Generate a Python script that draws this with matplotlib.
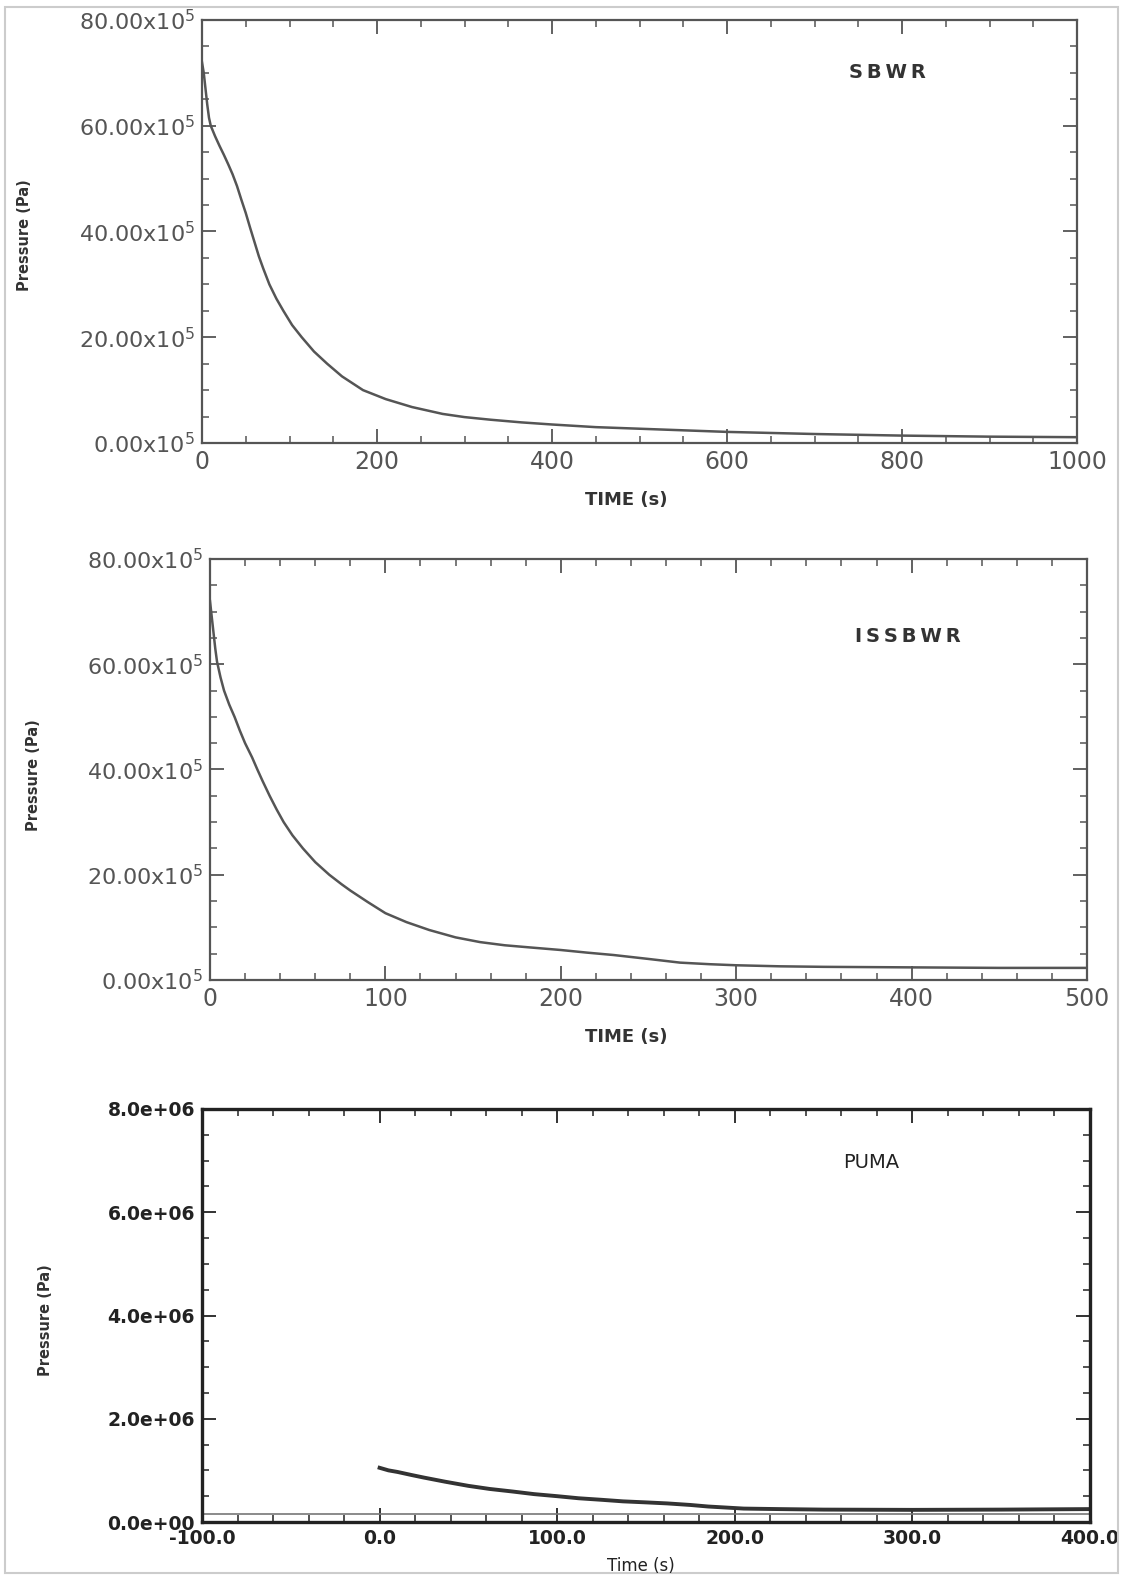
import numpy as np
import matplotlib
matplotlib.use("Agg")
import matplotlib.pyplot as plt
from matplotlib.ticker import MultipleLocator, FuncFormatter
from matplotlib.patches import Rectangle

plt.rcParams['font.family'] = ['DejaVu Sans']
plt.rcParams['mathtext.fontset'] = 'dejavusans'

# SBWR: Zeit (s) und Druck (10^5 Pa)
sbwr_t = [0, 2, 4, 6, 8, 10, 15, 20, 25, 30, 35, 40, 45, 50, 55, 60, 65, 70, 77, 85,
          93, 103, 114, 128, 143, 160, 184, 210, 240, 275, 300, 330, 365, 400, 450,
          500, 550, 600, 650, 700, 800, 900, 1000]
sbwr_p = [72, 70, 67, 64, 61.5, 60, 58, 56.2, 54.5, 52.7, 50.8, 48.6, 46, 43.5, 40.7,
          38, 35.3, 33, 30, 27.3, 25, 22.3, 20, 17.3, 15, 12.6, 10, 8.3, 6.8, 5.5, 4.9,
          4.4, 3.9, 3.5, 3.0, 2.7, 2.4, 2.1, 1.9, 1.7, 1.4, 1.2, 1.1]

# ISSBWR: Zeit (s) und Druck (10^5 Pa)
issbwr_t = [0, 1, 2, 3, 4, 6, 8, 11, 14, 17, 20, 24, 27, 30, 34, 38, 42, 47, 53, 60,
            68, 75, 80, 90, 100, 112, 125, 140, 154, 168, 182, 200, 215, 230, 250,
            268, 285, 300, 325, 350, 400, 450, 500]
issbwr_p = [72, 69, 66, 63, 60.5, 57.5, 55, 52.3, 50, 47.4, 45, 42.3, 40, 37.8, 35,
            32.4, 30, 27.5, 25, 22.4, 20, 18.2, 17.0, 14.8, 12.7, 11, 9.5, 8.1, 7.2,
            6.6, 6.2, 5.7, 5.2, 4.75, 4.0, 3.3, 3.0, 2.8, 2.6, 2.5, 2.4, 2.3, 2.3]

# PUMA: Zeit (s) und Druck (10^6 Pa)
puma_t = [0, 5, 10, 18, 25, 37, 50, 62, 75, 87, 100, 112, 125, 137, 150, 162, 175,
          185, 195, 205, 225, 250, 300, 350, 400]
puma_p = [1.05, 1.0, 0.97, 0.91, 0.86, 0.78, 0.70, 0.64, 0.59, 0.54, 0.50, 0.46, 0.43,
          0.40, 0.38, 0.36, 0.33, 0.30, 0.28, 0.26, 0.25, 0.24, 0.235, 0.24, 0.25]

W, H = 1123, 1575
fig = plt.figure(figsize=(W / 100, H / 100), dpi=100)


def box(x0, y0, x1, y1):
    # Pixelkoordinaten -> Figurkoordinaten
    return [x0 / W, 1 - y1 / H, (x1 - x0) / W, (y1 - y0) / H]


def style(ax, col, lw):
    for s in ax.spines.values():
        s.set_color(col)
        s.set_linewidth(lw)
    ax.tick_params(which='both', direction='in', top=True, right=True, color=col)
    ax.tick_params(which='major', length=10, width=1.3)
    ax.tick_params(which='minor', length=5, width=1.1)


gray = '#555555'

# --- SBWR ---
ax1 = fig.add_axes(box(202, 20, 1077, 443))
ax1.plot(sbwr_t, sbwr_p, color=gray, lw=1.8)
ax1.set_xlim(0, 1000)
ax1.set_ylim(0, 80)
ax1.xaxis.set_major_locator(MultipleLocator(200))
ax1.xaxis.set_minor_locator(MultipleLocator(50))
ax1.yaxis.set_major_locator(MultipleLocator(20))
ax1.yaxis.set_minor_locator(MultipleLocator(5))
ax1.yaxis.set_major_formatter(FuncFormatter(lambda v, p: f"{v:.2f}x10$^5$"))
ax1.xaxis.set_major_formatter(FuncFormatter(lambda v, p: f"{v:.0f}"))
style(ax1, gray, 1.6)
ax1.tick_params(which='major', labelcolor=gray, pad=5)
ax1.tick_params(axis='y', labelsize=16)
ax1.tick_params(axis='x', labelsize=17)
fig.text(887 / W, 1 - 72 / H, "S\u2009B\u2009W\u2009R",
         ha='center', va='center', fontsize=14, fontweight='bold', color='#333333')

# --- ISSBWR ---
ax2 = fig.add_axes(box(210, 559, 1087, 980))
ax2.plot(issbwr_t, issbwr_p, color=gray, lw=1.8)
ax2.set_xlim(0, 500)
ax2.set_ylim(0, 80)
ax2.xaxis.set_major_locator(MultipleLocator(100))
ax2.xaxis.set_minor_locator(MultipleLocator(20))
ax2.yaxis.set_major_locator(MultipleLocator(20))
ax2.yaxis.set_minor_locator(MultipleLocator(5))
ax2.yaxis.set_major_formatter(FuncFormatter(lambda v, p: f"{v:.2f}x10$^5$"))
ax2.xaxis.set_major_formatter(FuncFormatter(lambda v, p: f"{v:.0f}"))
style(ax2, gray, 1.6)
ax2.tick_params(which='major', labelcolor=gray, pad=5)
ax2.tick_params(axis='y', labelsize=16)
ax2.tick_params(axis='x', labelsize=17)
fig.text(908 / W, 1 - 637 / H, "I\u2009S\u2009S\u2009B\u2009W\u2009R",
         ha='center', va='center', fontsize=14, fontweight='bold', color='#333333')

# --- PUMA ---
ax3 = fig.add_axes(box(202, 1109, 1090, 1522))
ax3.plot(puma_t, np.array(puma_p) * 1e6, color='#333333', lw=2.8)
ax3.set_xlim(-100, 400)
ax3.set_ylim(0, 8e6)
ax3.xaxis.set_major_locator(MultipleLocator(100))
ax3.xaxis.set_minor_locator(MultipleLocator(20))
ax3.yaxis.set_major_locator(MultipleLocator(2e6))
ax3.yaxis.set_minor_locator(MultipleLocator(0.5e6))
ax3.yaxis.set_major_formatter(FuncFormatter(lambda v, p: f"{v:.1e}"))
ax3.xaxis.set_major_formatter(FuncFormatter(lambda v, p: f"{v:.1f}"))
style(ax3, '#222222', 2.4)
ax3.tick_params(which='major', labelsize=13.5, labelcolor='#222222', pad=5)
for lab in ax3.get_xticklabels() + ax3.get_yticklabels():
    lab.set_fontweight('bold')
ax3.plot([0, 1], [0.02, 0.02], transform=ax3.transAxes, color='#777777', lw=1.2)
fig.text(871 / W, 1 - 1162 / H, "PUMA", ha='center', va='center',
         fontsize=14, color='#222222')

# Achsenbeschriftungen
fig.text(626 / W, 1 - 500 / H, "TIME (s)", ha='center', va='center',
         fontsize=13, fontweight='bold', color='#333333')
fig.text(626 / W, 1 - 1037 / H, "TIME (s)", ha='center', va='center',
         fontsize=13, fontweight='bold', color='#333333')
fig.text(641 / W, 1 - 1566 / H, "Time (s)", ha='center', va='center',
         fontsize=12, color='#222222')
for x, y in [(25, 235), (33, 775), (46, 1320)]:
    fig.text(x / W, 1 - y / H, "Pressure (Pa)", rotation=90, ha='center',
             va='center', fontsize=10.5, fontweight='bold', color='#333333')

# heller Rahmen um das Bild
fig.patches.append(Rectangle((5 / W, 2 / H), 1113 / W, 1566 / H,
                             transform=fig.transFigure, fill=False,
                             edgecolor='#cccccc', lw=1.5))

fig.savefig("out.png", dpi=100)
